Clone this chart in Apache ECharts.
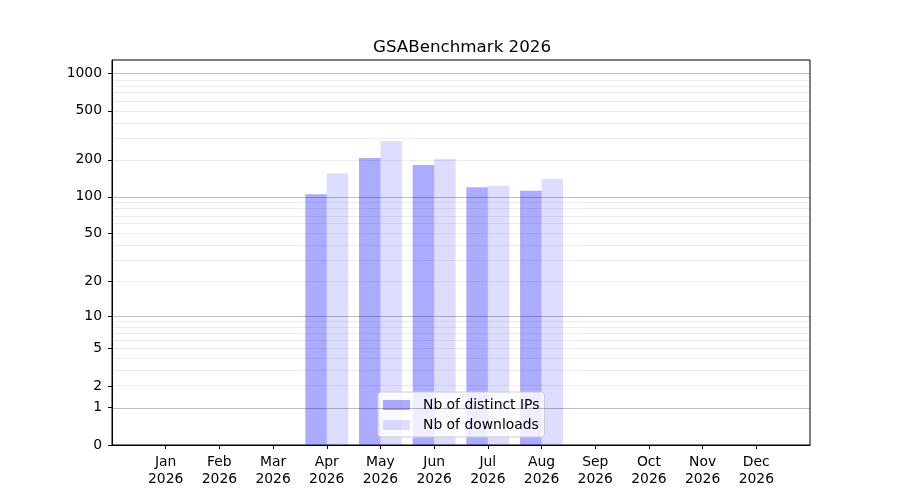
<!DOCTYPE html>
<html>
<head>
<meta charset="utf-8">
<script src="https://cdn.jsdelivr.net/npm/echarts@6/dist/echarts.min.js"></script>
<style>
  html, body { margin: 0; padding: 0; background: #fff; }
  #chart { width: 900px; height: 500px; }
</style>
</head>
<body>
<div id="chart"></div>
<script>
// GSABenchmark downloads per month (y axis is log10(1 + value))

var months = ['Jan', 'Feb', 'Mar', 'Apr', 'May', 'Jun', 'Jul', 'Aug', 'Sep', 'Oct', 'Nov', 'Dec'];
var year = '2026';
var distinctIps = [0, 0, 0, 105, 207, 182, 120, 112, 0, 0, 0, 0];
var downloads = [0, 0, 0, 156, 285, 203, 123, 140, 0, 0, 0, 0];
var yTickLabels = [0, 1, 2, 5, 10, 20, 50, 100, 200, 500, 1000];
var majorGrid = [1, 10, 100, 1000];
var minorGrid = [2, 3, 4, 5, 6, 7, 8, 9, 20, 30, 40, 50, 60, 70, 80, 90, 200, 300, 400, 500, 600, 700, 800, 900];

function toAxis(v) { return Math.log10(1 + v); }
function fromAxis(v) { return Math.round(Math.pow(10, v) - 1); }

// one empty slot at each end so the months sit one band inside the frame
var cats = [''].concat(months, ['']);
function pad(arr) { return [null].concat(arr.map(toAxis), [null]); }

var gridLines = majorGrid.map(function (v) {
    return { yAxis: toAxis(v), lineStyle: { color: 'rgba(0,0,0,0.26)', width: 1, type: 'solid' } };
}).concat(minorGrid.map(function (v) {
    return { yAxis: toAxis(v), lineStyle: { color: 'rgba(0,0,0,0.075)', width: 1, type: 'solid' } };
}));

var myChart = echarts.init(document.getElementById('chart'));
var option = {
    animation: false,
    textStyle: { fontFamily: 'DejaVu Sans' },
    title: {
        text: 'GSABenchmark ' + year,
        left: 368,
        top: 34,
        textStyle: { fontSize: 16.7, fontWeight: 'normal', color: '#000', fontFamily: 'DejaVu Sans' }
    },
    grid: {
        left: 112, right: 90, top: 60, bottom: 55,
        show: true, borderColor: '#000', borderWidth: 1, backgroundColor: 'transparent'
    },
    legend: {
        orient: 'vertical',
        left: 378,
        top: 392,
        itemWidth: 27,
        itemHeight: 10,
        itemGap: 6,
        padding: [6, 5, 5, 5],
        backgroundColor: 'rgba(255,255,255,0.8)',
        borderColor: '#cccccc',
        borderWidth: 1,
        borderRadius: 3,
        icon: 'rect',
        textStyle: { fontSize: 13.9, color: '#000', fontFamily: 'DejaVu Sans', padding: [0, 0, 0, 8] },
        data: ['Nb of distinct IPs', 'Nb of downloads']
    },
    xAxis: {
        type: 'category',
        data: cats,
        boundaryGap: false,
        axisLine: { lineStyle: { color: '#000' } },
        axisTick: {
            length: 4,
            lineStyle: { color: '#000' },
            interval: function (i, v) { return v !== ''; }
        },
        axisLabel: {
            interval: 0,
            margin: 9,
            color: '#000',
            fontSize: 13.9,
            lineHeight: 16.7,
            formatter: function (v) { return v === '' ? '' : v + '\n' + year; }
        },
        splitLine: { show: false }
    },
    yAxis: {
        type: 'value',
        min: 0,
        max: 3.11,
        axisLine: { show: true, lineStyle: { color: '#000' } },
        axisTick: {
            show: true,
            length: 4,
            lineStyle: { color: '#000' },
            customValues: yTickLabels.map(toAxis)
        },
        axisLabel: {
            color: '#000',
            fontSize: 13.9,
            margin: 10,
            customValues: yTickLabels.map(toAxis),
            formatter: function (v) { return String(fromAxis(v)); }
        },
        splitLine: { show: false }
    },
    series: [
        {
            name: 'Nb of distinct IPs',
            type: 'bar',
            data: pad(distinctIps),
            barWidth: '40%',
            barGap: '0%',
            itemStyle: { color: 'rgba(0,0,255,0.33)', borderWidth: 0 },
            markLine: {
                silent: true,
                symbol: 'none',
                label: { show: false },
                animation: false,
                data: gridLines
            }
        },
        {
            name: 'Nb of downloads',
            type: 'bar',
            data: pad(downloads),
            barWidth: '40%',
            barGap: '0%',
            itemStyle: { color: 'rgba(0,0,255,0.135)', borderWidth: 0 }
        }
    ]
};
myChart.setOption(option);
</script>
</body>
</html>
